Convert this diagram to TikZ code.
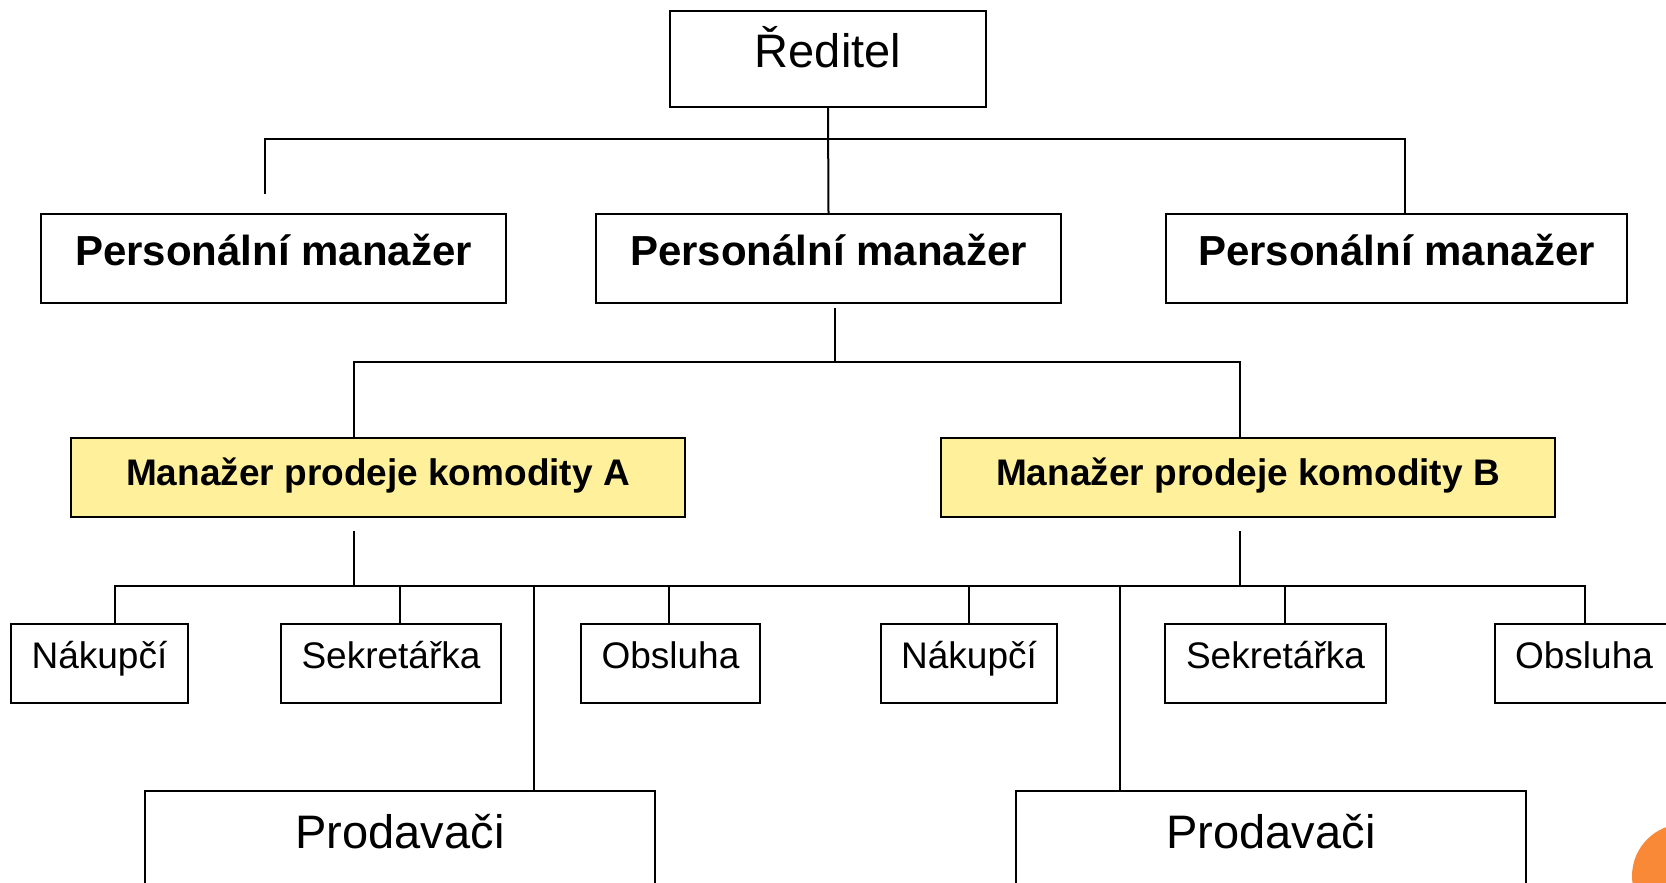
\documentclass[tikz,border=0pt]{standalone}
\usepackage{fontspec}
\setmainfont{Liberation Sans}
\definecolor{boxyellow}{RGB}{255,241,155}
\definecolor{dotorange}{RGB}{250,137,55}
\begin{document}
\begin{tikzpicture}[x=1pt,y=-1pt,
  box/.style={draw=black, line width=2pt, inner sep=0pt, anchor=north west, fill=white},
  conn/.style={draw=black, line width=2pt},
  txbig/.style={font=\fontsize{47}{56}\selectfont},
  txpm/.style={font=\fontsize{42}{50}\selectfont\bfseries, text height=51pt, text depth=38pt},
  txmgr/.style={font=\fontsize{37}{44}\selectfont\bfseries, fill=boxyellow, text height=47pt, text depth=32pt},
  txsmall/.style={font=\fontsize{37}{44}\selectfont, text height=44pt, text depth=35pt}]
\useasboundingbox (0,0) rectangle (1666,883);
\fill[white] (0,0) rectangle (1666,883);
\clip (0,0) rectangle (1666,883);

% nodes
\node[box, txbig, minimum width=316pt, text height=57pt, text depth=39pt] (dir) at (669,10) {Ředitel};
\node[box, txpm, minimum width=465pt] (pmL) at (40,213) {Personální manažer};
\node[box, txpm, minimum width=465pt] (pmM) at (595,213) {Personální manažer};
\node[box, txpm, minimum width=461pt] (pmR) at (1165,213) {Personální manažer};
\node[box, txmgr, minimum width=614pt] (yA) at (70,437) {Manažer prodeje komodity A};
\node[box, txmgr, minimum width=614pt] (yB) at (940,437) {Manažer prodeje komodity B};
\node[box, txsmall, minimum width=177pt] (nA) at (10,623) {Nákupčí};
\node[box, txsmall, minimum width=220pt] (sA) at (280,623) {Sekretářka};
\node[box, txsmall, minimum width=179pt] (oA) at (580,623) {Obsluha};
\node[box, txsmall, minimum width=176pt] (nB) at (880,623) {Nákupčí};
\node[box, txsmall, minimum width=221pt] (sB) at (1164,623) {Sekretářka};
\node[box, txsmall, minimum width=178pt] (oB) at (1494,623) {Obsluha};
\node[box, txbig, minimum width=510pt, text height=57pt, text depth=80pt] (pA) at (144,790) {Prodavači};
\node[box, txbig, minimum width=510pt, text height=57pt, text depth=80pt] (pB) at (1015,790) {Prodavači};

% bus coordinates
\coordinate (tl) at (265,139);
\coordinate (tr) at (1405,139);
\coordinate (tlend) at (265,194);
\coordinate (mtop) at (835,308);
\coordinate (ml) at (354,362);
\coordinate (mr) at (1240,362);
\coordinate (aTop) at (354,531);
\coordinate (bTop) at (1240,531);
\coordinate (s1) at (115,585.5);
\coordinate (s2) at (399.5,585.5);
\coordinate (s3) at (534,585.5);
\coordinate (s4) at (669,585.5);
\coordinate (s5) at (969,585.5);
\coordinate (s6) at (1120,585.5);
\coordinate (s7) at (1285,585.5);
\coordinate (s8) at (1585,585.5);

% connectors
\draw[conn] (dir.south) -- (pmM.north);
\draw[conn] (tlend) -- (tl) -- (tr) -- (tr |- pmR.north);
\draw[conn] (mtop) -- (mtop |- ml);
\draw[conn] (ml |- yA.north) -- (ml) -- (mr) -- (mr |- yB.north);
\draw[conn] (aTop) -- (aTop |- s1);
\draw[conn] (bTop) -- (bTop |- s1);
\draw[conn] (s1 |- nA.north) -- (s1) -- (s8) -- (s8 |- oB.north);
\draw[conn] (s2) -- (s2 |- sA.north);
\draw[conn] (s3) -- (s3 |- pA.north);
\draw[conn] (s4) -- (s4 |- oA.north);
\draw[conn] (s5) -- (s5 |- nB.north);
\draw[conn] (s6) -- (s6 |- pB.north);
\draw[conn] (s7) -- (s7 |- sB.north);

% corner decoration
\fill[dotorange] (1684,876) circle[radius=52];
\end{tikzpicture}
\end{document}
